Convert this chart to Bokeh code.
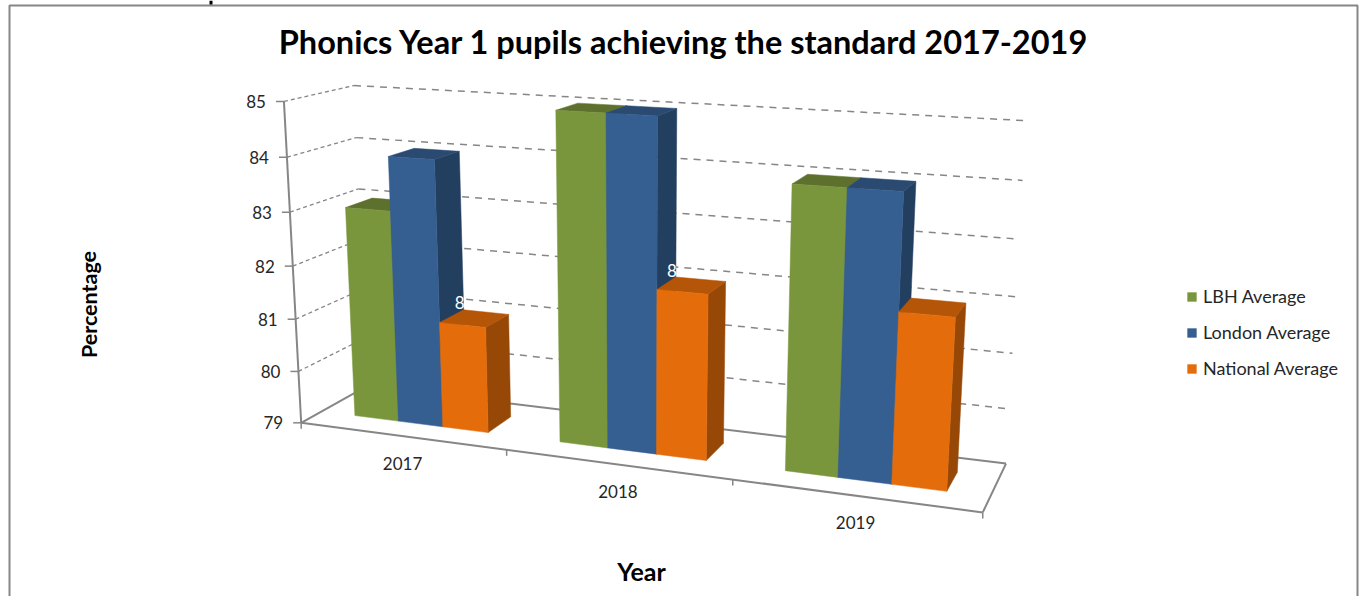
import numpy as np
from bokeh.plotting import figure
from bokeh.models import Legend, LegendItem, Range1d
from bokeh.core.properties import value
from bokeh.embed import file_html
from bokeh.resources import INLINE

# ---------- data ----------
years = ["2017", "2018", "2019"]
lbh = [83, 85, 84]
london = [84, 85, 84]
national = [81, 82, 82]
series_names = ["LBH Average", "London Average", "National Average"]
y_ticks = [79, 80, 81, 82, 83, 84, 85]
title_text = "Phonics Year 1 pupils achieving the standard 2017-2019"

# ---------- styles ----------
FACE = ["#7A963C", "#365F91", "#E46C0A"]
TOP = ["#5E702E", "#2A4A72", "#B45507"]
SIDE = ["#4F6228", "#233F60", "#974806"]
GREY = "#868686"
FONT = value("Lato")
TXT = "#262626"

W, H = 1359, 596
VMIN, VMAX = y_ticks[0], y_ticks[-1]
GROUP = 0.66         # share of a category taken by its bars
D0, D1 = 0.30, 0.70  # bar depth span

# 3D -> picture camera, calibrated from the eight box corners
corners = [((0, 0, 0), (302, 422)), ((0, 1, 0), (282, 101)),
           ((1, 0, 0), (983, 512)), ((1, 1, 0), (1002, 142)),
           ((0, 0, 1), (365, 386)), ((0, 1, 1), (355, 85)),
           ((1, 0, 1), (1005, 463)), ((1, 1, 1), (1026, 120))]
A = []
for (a, b, c), (x, y) in corners:
    A.append([a, b, c, 1, 0, 0, 0, 0, -x*a, -x*b, -x*c, -x])
    A.append([0, 0, 0, 0, a, b, c, 1, -y*a, -y*b, -y*c, -y])
P = np.linalg.svd(np.array(A, float))[2][-1].reshape(3, 4)


def proj(u, val, w):
    h = P @ np.array([u, (val - VMIN) / (VMAX - VMIN), w, 1.0])
    return float(h[0] / h[2]), float(h[1] / h[2])


def poly(pts):
    q = [proj(*t) for t in pts]
    return [a for a, _ in q], [b for _, b in q]


p = figure(width=W, height=H, x_range=Range1d(0, W), y_range=Range1d(H, 0),
           output_backend="svg", toolbar_location=None, min_border=0,
           x_axis_type=None, y_axis_type=None, outline_line_color=None)
p.grid.visible = False

# outer frame and clipped stroke of the page text above
p.line([9, 9, 1357, 1357], [596, 5, 5, 596], line_color=GREY, line_width=2)
p.line([210.5, 210.5], [0, 4], line_color="#000000", line_width=3)

# gridlines on the side and back walls
for t in y_ticks[1:]:
    x, y = zip(proj(0, t, 0), proj(0, t, 1))
    p.line(list(x), list(y), line_color=GREY, line_width=1.3, line_dash="4 3")
    x, y = zip(proj(0, t, 1), proj(1, t, 1))
    p.line(list(x), list(y), line_color=GREY, line_width=1.5, line_dash="7 6")

# floor and axes
for a, b in [((0, VMIN, 0), (1, VMIN, 0)), ((0, VMIN, 0), (0, VMIN, 1)),
             ((0, VMIN, 1), (1, VMIN, 1)), ((1, VMIN, 0), (1, VMIN, 1)),
             ((0, VMIN, 0), (0, VMAX, 0))]:
    x, y = zip(proj(*a), proj(*b))
    p.line(list(x), list(y), line_color=GREY, line_width=2)

# value ticks and labels
for t in y_ticks:
    x, y = proj(0, t, 0)
    p.line([x - 8, x], [y, y], line_color=GREY, line_width=1.5)
    p.text([x - 18], [y], text=[str(t)], text_align="right", text_baseline="middle",
           text_font=FONT, text_font_size="17px", text_color=TXT)

# category ticks
n = len(years)
for i in range(n + 1):
    x, y = proj(i / n, VMIN, 0)
    p.line([x, x], [y, y + 6], line_color=GREY, line_width=1.5)

# category labels
for i, yr in enumerate(years):
    x, y = proj((i + 0.5) / n, VMIN, 0)
    p.text([x + 1], [y + 27], text=[yr], text_align="center", text_baseline="middle",
           text_font=FONT, text_font_size="17px", text_color=TXT)

# bars
table = [lbh, london, national]
legend_rend = {}
bar_w = GROUP / n / len(table)
for i in range(n):
    start = (i + (1 - GROUP) / 2) / n
    for s, vals in enumerate(table):
        u0, u1 = start + s * bar_w, start + (s + 1) * bar_w
        v = vals[i]
        x, y = poly([(u1, VMIN, D0), (u1, VMIN, D1), (u1, v, D1), (u1, v, D0)])
        p.patch(x, y, fill_color=SIDE[s], line_color=SIDE[s], line_width=0.5)
        x, y = poly([(u0, v, D0), (u1, v, D0), (u1, v, D1), (u0, v, D1)])
        p.patch(x, y, fill_color=TOP[s], line_color=TOP[s], line_width=0.5)
        x, y = poly([(u0, VMIN, D0), (u1, VMIN, D0), (u1, v, D0), (u0, v, D0)])
        r = p.patch(x, y, fill_color=FACE[s], line_color=FACE[s], line_width=0.5)
        legend_rend.setdefault(s, r)

# white data-label remnants left visible in the picture
for i in range(2):
    x, y = proj((i + (1 - GROUP) / 2) / n + 2 * bar_w, national[i], D1)
    p.text([x - 4], [y - 7], text=["8"], text_align="center", text_baseline="middle",
           text_font=FONT, text_font_size="17px", text_color="#FFFFFF")

# titles
p.text([683.5], [41], text=[title_text], text_align="center", text_baseline="middle",
       text_font=FONT, text_font_style=value("bold"), text_font_size="32.5px", text_color="#000000")
p.text([88], [304], text=["Percentage"], angle=[np.pi / 2], text_align="center", text_baseline="middle",
       text_font=FONT, text_font_style=value("bold"), text_font_size="21.5px", text_color="#000000")
p.text([641], [570], text=["Year"], text_align="center", text_baseline="middle",
       text_font=FONT, text_font_style=value("bold"), text_font_size="25px", text_color="#000000")

legend = Legend(items=[LegendItem(label=nm, renderers=[legend_rend[s]]) for s, nm in enumerate(series_names)],
                location=(1186, H - 379), orientation="vertical", background_fill_alpha=0,
                border_line_alpha=0, padding=0, margin=0, spacing=14, glyph_width=11, glyph_height=11,
                label_standoff=6, label_text_font="Lato", label_text_font_size="18px",
                label_text_color=TXT, label_height=20)
p.add_layout(legend)

open("out.html", "w").write(file_html(p, INLINE))
